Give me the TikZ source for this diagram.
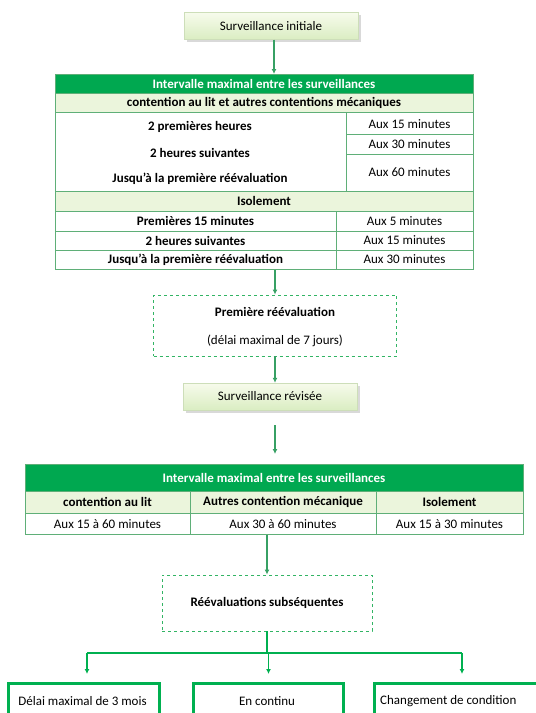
\documentclass[tikz,border=0pt]{standalone}
\usepackage{fontspec}
\setmainfont{Carlito}
\usetikzlibrary{arrows.meta,shadows,calc}
\definecolor{hdrgreen}{RGB}{0,168,80}
\definecolor{subgreen}{RGB}{235,245,220}
\definecolor{gridgreen}{RGB}{95,175,120}
\definecolor{arrgreen}{RGB}{55,160,100}
\definecolor{dashgreen}{RGB}{50,180,100}
\definecolor{boxgreen}{RGB}{0,176,80}
\definecolor{survtop}{RGB}{247,251,236}
\definecolor{survbot}{RGB}{218,237,194}
\definecolor{survline}{RGB}{205,222,185}
\begin{document}
\begin{tikzpicture}[x=1pt,y=-1pt,
  font=\fontsize{13}{15}\selectfont,
  survbox/.style={draw=survline, top color=survtop, bottom color=survbot,
    minimum width=174pt, minimum height=27pt, inner sep=0pt,
    drop shadow={shadow xshift=2.5pt,shadow yshift=-2.5pt,opacity=0.3}},
  tablebox/.style={draw=gridgreen, line width=0.9pt, anchor=north west, inner sep=0pt},
  gridline/.style={draw=gridgreen, line width=0.9pt},
  hdrtext/.style={text=white, font=\fontsize{13}{15}\selectfont\bfseries, inner sep=0pt},
  btext/.style={font=\fontsize{13}{15}\selectfont\bfseries, inner sep=0pt},
  rtext/.style={inner sep=0pt},
  dashbox/.style={draw=dashgreen, dashed, line width=0.9pt, inner sep=0pt},
  arrowline/.style={draw=arrgreen, line width=1.3pt, -{Latex[length=5pt,width=5pt]}},
  branchline/.style={draw=boxgreen, line width=2pt},
  brancharrow/.style={draw=boxgreen, line width=1.6pt, -{Latex[length=5pt,width=5pt]}},
  endbox/.style={draw=boxgreen, line width=3pt, anchor=north west, inner sep=0pt}
]
\useasboundingbox (0,0) rectangle (536,713);
\clip (0,0) rectangle (536,713);

% Surveillance initiale
\node[survbox] (si) at (271,26) {Surveillance initiale};

% Table 1
\fill[hdrgreen] (55,74) rectangle (473,93);
\fill[subgreen] (55,93) rectangle (473,112);
\fill[subgreen] (55,191) rectangle (473,211);
\node[tablebox, minimum width=418pt, minimum height=195pt] (t1) at (55,74) {};
\draw[gridline] (55,93) -- (473,93);
\draw[gridline] (55,112) -- (473,112);
\draw[gridline] (346,112) -- (346,191);
\draw[gridline] (346,134) -- (473,134);
\draw[gridline] (346,154) -- (473,154);
\draw[gridline] (55,191) -- (473,191);
\draw[gridline] (55,211) -- (473,211);
\draw[gridline] (336,211) -- (336,269);
\draw[gridline] (55,231) -- (473,231);
\draw[gridline] (55,250) -- (473,250);

\node[hdrtext] (t1h) at (264,83.5) {Intervalle maximal entre les surveillances};
\node[btext] (t1s) at (264,102.5) {contention au lit et autres contentions mécaniques};
\node[btext] (t1a) at (200,127) {2 premières heures};
\node[btext] (t1b) at (200,153) {2 heures suivantes};
\node[btext] (t1c) at (200,178.5) {Jusqu'à la première réévaluation};
\node[rtext] (t1d) at (409.5,124) {Aux 15 minutes};
\node[rtext] (t1e) at (409.5,144) {Aux 30 minutes};
\node[rtext] (t1f) at (409.5,172.5) {Aux 60 minutes};
\node[btext] (t1i) at (264,201) {Isolement};
\node[btext] (t1g) at (195.5,221) {Premières 15 minutes};
\node[btext] (t1j) at (195.5,240.5) {2 heures suivantes};
\node[btext] (t1k) at (195.5,259.5) {Jusqu'à la première réévaluation};
\node[rtext] (t1l) at (404.5,221) {Aux 5 minutes};
\node[rtext] (t1m) at (404.5,240.5) {Aux 15 minutes};
\node[rtext] (t1n) at (404.5,259.5) {Aux 30 minutes};

% Premiere reevaluation
\node[dashbox, minimum width=243pt, minimum height=61pt] (db1) at (275,325.5) {};
\node[btext] (db1a) at (275,312) {Première réévaluation};
\node[rtext] (db1b) at (275,341) {(délai maximal de 7 jours)};

% Surveillance revisee
\node[survbox] (sr) at (270,396.5) {Surveillance révisée};

% Table 2
\fill[hdrgreen] (25,464) rectangle (523,491);
\fill[subgreen] (25,491) rectangle (523,513);
\node[tablebox, minimum width=498pt, minimum height=70pt] (t2) at (25,464) {};
\draw[gridline] (25,491) -- (523,491);
\draw[gridline] (25,513) -- (523,513);
\draw[gridline] (190,491) -- (190,534);
\draw[gridline] (376,491) -- (376,534);
\node[hdrtext] (t2h) at (274,477.5) {Intervalle maximal entre les surveillances};
\node[btext] (t2a) at (107.5,502) {contention au lit};
\node[btext] (t2b) at (283,502) {Autres contention mécanique};
\node[btext] (t2c) at (449.5,502) {Isolement};
\node[rtext] (t2d) at (107.5,524) {Aux 15 à 60 minutes};
\node[rtext] (t2e) at (283,524) {Aux 30 à 60 minutes};
\node[rtext] (t2f) at (449.5,524) {Aux 15 à 30 minutes};

% Reevaluations subsequentes
\node[dashbox, minimum width=210pt, minimum height=56pt] (db2) at (267,603) {};
\node[btext] (db2a) at (267,603) {Réévaluations subséquentes};

% Bottom boxes
\node[endbox, minimum width=151pt, minimum height=45pt] (b1) at (7,682) {};
\node[endbox, minimum width=150pt, minimum height=45pt] (b2) at (192,682) {};
\node[endbox, minimum width=175pt, minimum height=45pt] (b3) at (373,682) {};
\node[rtext] (b1t) at (82.5,701) {Délai maximal de 3 mois};
\node[rtext] (b2t) at (267,701) {En continu};
\node[rtext, anchor=west] (b3t) at (380,701) {Changement de condition};

% Connectors
\draw[arrowline] (si.south -| 274,0) -- (274,74);
\draw[arrowline] (t1.south -| db1.north) -- (db1.north);
\draw[arrowline] (db1.south) -- (db1.south |- sr.north);
\draw[arrowline, shorten <=15pt, shorten >=10pt] (sr.south -| db1.south) -- (t2.north -| db1.south);
\draw[arrowline] (t2.south -| db2.north) -- (db2.north);
\draw[branchline] (db2.south) -- ++(0,22) coordinate (jn);
\draw[branchline] (jn -| 87,0) -- (jn -| 462,0);
\draw[brancharrow, shorten >=8pt] (jn -| 87,0) -- (87,682);
\draw[brancharrow, shorten >=8pt] (jn -| b2.north) -- (b2.north);
\draw[brancharrow, shorten >=8pt] (jn -| 462,0) -- (462,682);
\end{tikzpicture}
\end{document}
